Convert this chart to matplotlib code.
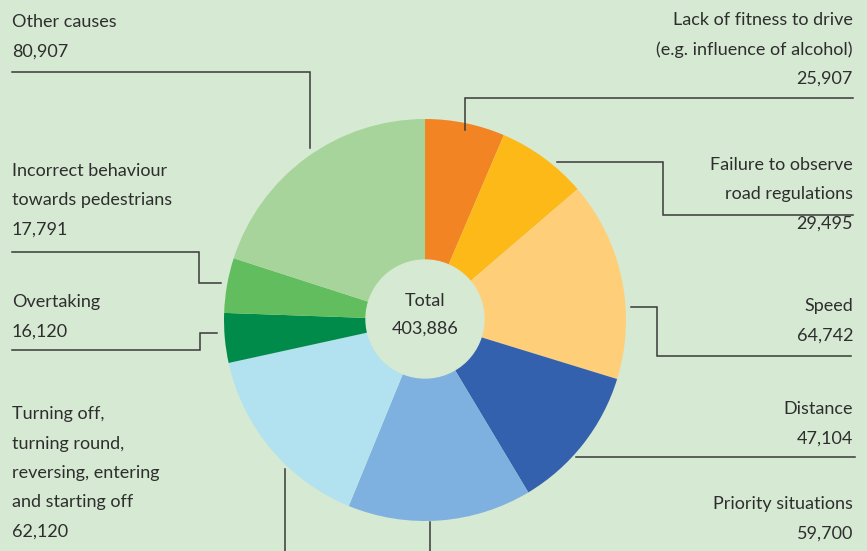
import matplotlib.pyplot as plt

# accident causes, clockwise from 12 o'clock
labels = ["Lack of fitness to drive\n(e.g. influence of alcohol)",
          "Failure to observe\nroad regulations",
          "Speed",
          "Distance",
          "Priority situations",
          "Turning off,\nturning round,\nreversing, entering\nand starting off",
          "Overtaking",
          "Incorrect behaviour\ntowards pedestrians",
          "Other causes"]
values = [25907, 29495, 64742, 47104, 59700, 62120, 16120, 17791, 80907]
colors = ["#f28424", "#fdb918", "#fecf78", "#3461ae", "#7fb1e0",
          "#b2e2f0", "#008b4b", "#62bd5f", "#a6d49a"]

bg = "#d6e9d3"
txt = "#2e2e2e"
W, H = 867, 551

plt.rcParams['font.family'] = ['Lato', 'DejaVu Sans']

fig = plt.figure(figsize=(W / 100, H / 100), dpi=100, facecolor=bg)
ax = fig.add_axes([0, 0, 1, 1])
ax.set_facecolor(bg)

def py(y):
    # pixel row (from top) -> data y
    return H - y

ax.pie(values, colors=colors, startangle=90, counterclock=False,
       center=(425, py(320)), radius=201,
       wedgeprops=dict(linewidth=0))
ax.add_patch(plt.Circle((425, py(319)), 59, color=bg, zorder=3))
ax.set_xlim(0, W)
ax.set_ylim(0, H)
ax.set_aspect('equal')
ax.axis('off')

fs = 13
lh = 29.5

# (x, first line centre row, alignment)
label_pos = [(853, 20, 'right'), (853, 165, 'right'), (853, 306, 'right'),
             (853, 409, 'right'), (853, 504, 'right'), (12, 414, 'left'),
             (12, 302, 'left'), (12, 171, 'left'), (12, 22, 'left')]

for lab, v, (x, y0, ha) in zip(labels, values, label_pos):
    lines = lab.split("\n") + [f"{v:,}"]
    for i, ln in enumerate(lines):
        ax.text(x, py(y0 + i * lh), ln, ha=ha, va='center',
                fontsize=fs, color=txt, zorder=5)

total = sum(values)
ax.text(425, py(301), "Total", ha='center', va='center', fontsize=fs,
        color=txt, zorder=5)
ax.text(425, py(329), f"{total:,}", ha='center', va='center', fontsize=fs,
        color=txt, zorder=5)

# leader lines in pixel rows
leaders = [
    [(465, 130), (465, 98), (853, 98)],
    [(557, 162), (663, 162), (663, 215), (853, 215)],
    [(631, 307), (657, 307), (657, 356), (851, 356)],
    [(576, 457), (855, 457)],
    [(430, 522), (430, 551)],
    [(285, 469), (285, 551)],
    [(217, 333), (200, 333), (200, 350), (12, 350)],
    [(221, 283), (199, 283), (199, 252), (12, 252)],
    [(310, 148), (310, 72), (12, 72)],
]
for path in leaders:
    xs = [p[0] for p in path]
    ys = [py(p[1]) for p in path]
    ax.plot(xs, ys, color="#3a3a3a", lw=1.1, zorder=4,
            solid_joinstyle='miter')

fig.savefig("out.png", dpi=100, facecolor=bg)
